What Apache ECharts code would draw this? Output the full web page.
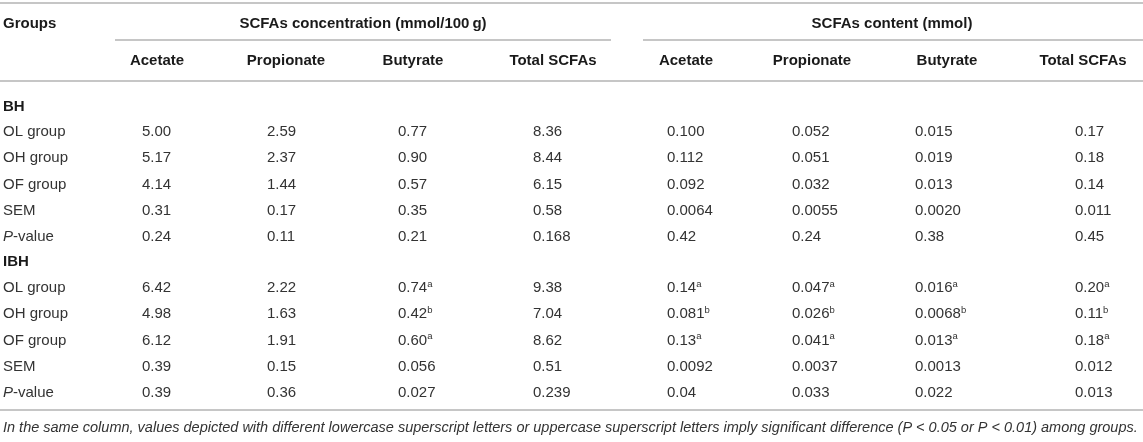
<!DOCTYPE html>
<html>
<head>
<meta charset="utf-8">
<script src="https://cdn.jsdelivr.net/npm/echarts@6/dist/echarts.min.js"></script>
<style>
html,body{margin:0;padding:0;background:#fff;}
#c{width:1143px;height:442px;}
</style>
</head>
<body>
<div id="c"></div>
<script>
// ---------- data ----------
const groupHeaders = ['SCFAs concentration (mmol/100\u2009g)', 'SCFAs content (mmol)'];
const columns = ['Acetate', 'Propionate', 'Butyrate', 'Total SCFAs', 'Acetate', 'Propionate', 'Butyrate', 'Total SCFAs'];
const sections = ['BH', 'IBH'];
const rowLabels = ['OL group', 'OH group', 'OF group', 'SEM', 'P-value'];

const bhOL  = ['5.00', '2.59', '0.77', '8.36', '0.100', '0.052', '0.015', '0.17'];
const bhOH  = ['5.17', '2.37', '0.90', '8.44', '0.112', '0.051', '0.019', '0.18'];
const bhOF  = ['4.14', '1.44', '0.57', '6.15', '0.092', '0.032', '0.013', '0.14'];
const bhSEM = ['0.31', '0.17', '0.35', '0.58', '0.0064', '0.0055', '0.0020', '0.011'];
const bhP   = ['0.24', '0.11', '0.21', '0.168', '0.42', '0.24', '0.38', '0.45'];

const ibhOL  = ['6.42', '2.22', '0.74', '9.38', '0.14', '0.047', '0.016', '0.20'];
const ibhOLsup = ['', '', 'a', '', 'a', 'a', 'a', 'a'];
const ibhOH  = ['4.98', '1.63', '0.42', '7.04', '0.081', '0.026', '0.0068', '0.11'];
const ibhOHsup = ['', '', 'b', '', 'b', 'b', 'b', 'b'];
const ibhOF  = ['6.12', '1.91', '0.60', '8.62', '0.13', '0.041', '0.013', '0.18'];
const ibhOFsup = ['', '', 'a', '', 'a', 'a', 'a', 'a'];
const ibhSEM = ['0.39', '0.15', '0.056', '0.51', '0.0092', '0.0037', '0.0013', '0.012'];
const ibhP   = ['0.39', '0.36', '0.027', '0.239', '0.04', '0.033', '0.022', '0.013'];
const noSup = ['', '', '', '', '', '', '', ''];

const footnote = 'In the same column, values depicted with different lowercase superscript letters or uppercase superscript letters imply significant difference (P < 0.05 or P < 0.01) among groups.';

// ---------- layout (pixel-unit axes) ----------
const W = 1143, H = 442;
const layout = {
  labelX: 3,
  colLeft: [142, 267, 398, 533, 667, 792, 915, 1075],
  headCenter: [157, 286, 413, 553, 686, 812, 947, 1083],
  groupCenter: [363, 892],
  groupLine: [[115, 611], [643, 1143]],
  yGroupHead: 24, ySubHead: 61,
  ySection: [107, 262],
  yFirstRow: [132, 288],
  rowStep: 26.2,
  yFoot: 428,
  hLines: [3, 81, 410], yGroupLine: 40
};

const FONT = '"Liberation Sans", Arial, Helvetica, sans-serif';
const bodyColor = '#333';
const headColor = '#1a1a1a';
const lineColor = '#c6c6c6';

// ---------- build cells ----------
const cells = [];
function addCell(x, y, text, opt) { cells.push(Object.assign({ x: x, y: y, text: text }, opt || {})); }

addCell(layout.labelX, layout.yGroupHead, 'Groups', { bold: true, align: 'left' });
groupHeaders.forEach((g, i) => addCell(layout.groupCenter[i], layout.yGroupHead, g, { bold: true, align: 'center' }));
columns.forEach((c, i) => addCell(layout.headCenter[i], layout.ySubHead, c, { bold: true, align: 'center' }));

const sectionRows = [
  [[bhOL, noSup], [bhOH, noSup], [bhOF, noSup], [bhSEM, noSup], [bhP, noSup]],
  [[ibhOL, ibhOLsup], [ibhOH, ibhOHsup], [ibhOF, ibhOFsup], [ibhSEM, noSup], [ibhP, noSup]]
];
sections.forEach((s, si) => {
  addCell(layout.labelX, layout.ySection[si], s, { bold: true, align: 'left' });
  sectionRows[si].forEach((row, ri) => {
    const y = layout.yFirstRow[si] + ri * layout.rowStep;
    addCell(layout.labelX, y, rowLabels[ri], { align: 'left', italicP: ri === 4 });
    row[0].forEach((v, ci) => addCell(layout.colLeft[ci], y, v, { align: 'left', sup: row[1][ci] }));
  });
});
addCell(layout.labelX, layout.yFoot, footnote, { align: 'left', italic: true, small: true });

// lines
const lines = [];
layout.hLines.forEach(y => lines.push([0, y, W, y]));
layout.groupLine.forEach(seg => lines.push([seg[0], layout.yGroupLine, seg[1], layout.yGroupLine]));

function cellText(c) {
  if (c.italicP) return '{i|P}{n|-value}';
  if (c.sup) return '{n|' + c.text + '}{s|' + c.sup + '}';
  return '{n|' + c.text + '}';
}

const chart = echarts.init(document.getElementById('c'), null, { renderer: 'canvas' });
chart.setOption({
  animation: false,
  backgroundColor: '#fff',
  grid: { left: 0, right: 0, top: 0, bottom: 0 },
  xAxis: { type: 'value', min: 0, max: W, show: false },
  yAxis: { type: 'value', min: 0, max: H, inverse: true, show: false },
  series: [
    {
      type: 'custom',
      coordinateSystem: 'cartesian2d',
      data: lines,
      renderItem: function (params, api) {
        const p1 = api.coord([api.value(0), api.value(1)]);
        const p2 = api.coord([api.value(2), api.value(3)]);
        return {
          type: 'line',
          shape: { x1: p1[0], y1: p1[1], x2: p2[0], y2: p2[1] },
          style: { stroke: lineColor, lineWidth: 2 }
        };
      },
      silent: true
    },
    {
      type: 'custom',
      coordinateSystem: 'cartesian2d',
      data: cells.map((c, i) => [c.x, c.y, i]),
      renderItem: function (params, api) {
        const c = cells[api.value(2)];
        const p = api.coord([api.value(0), api.value(1)]);
        const fs = c.small ? 14.5 : 15;
        const weight = c.bold ? 'bold' : 'normal';
        const style = c.italic ? 'italic' : 'normal';
        const col = c.bold ? headColor : bodyColor;
        return {
          type: 'text',
          x: p[0], y: p[1],
          style: {
            text: c.italic ? c.text : cellText(c),
            fontFamily: FONT,
            fontSize: fs,
            fontWeight: weight,
            fontStyle: style,
            fill: col,
            align: c.align,
            verticalAlign: 'middle',
            rich: {
              n: { fontFamily: FONT, fontSize: fs, fontWeight: weight, fill: col, lineHeight: 18 },
              i: { fontFamily: FONT, fontSize: fs, fontStyle: 'italic', fill: col, lineHeight: 18 },
              s: { fontFamily: FONT, fontSize: 9.5, fill: col, lineHeight: 12, verticalAlign: 'top' }
            }
          }
        };
      },
      silent: true
    }
  ]
});
</script>
</body>
</html>
